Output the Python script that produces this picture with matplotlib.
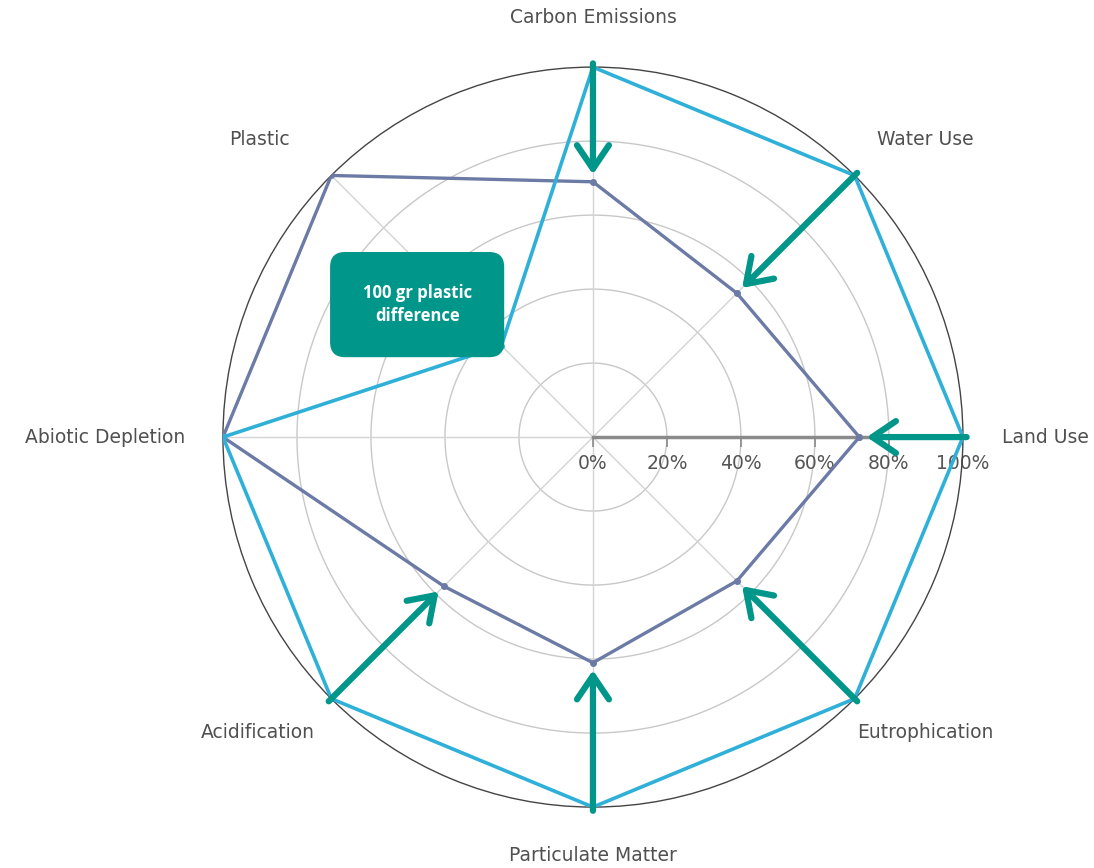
import numpy as np
import matplotlib.pyplot as plt

# categories, counter-clockwise from the right (Land Use at 0 deg)
categories = ['Land Use', 'Water Use', 'Carbon Emissions', 'Plastic',
              'Abiotic Depletion', 'Acidification', 'Particulate Matter', 'Eutrophication']
reference = [100, 100, 100, 35, 100, 100, 100, 100]   # light blue
alternative = [72, 55, 69, 100, 100, 57, 61, 55]      # dark slate
r_ticks = [0, 20, 40, 60, 80, 100]
r_tick_labels = ['0%', '20%', '40%', '60%', '80%', '100%']
arrow_cats = ['Carbon Emissions', 'Water Use', 'Land Use', 'Eutrophication',
              'Particulate Matter', 'Acidification']
note = '100 gr plastic\ndifference'

plt.rcParams['font.family'] = ['DejaVu Sans']

theta = np.deg2rad(np.arange(len(categories)) * 45.0)
tc = np.append(theta, theta[0])

fig = plt.figure(figsize=(10.94, 8.68), dpi=100)
ax = fig.add_axes([0.2038, 0.0702, 0.6764, 0.8525], projection='polar')
ax.set_theta_zero_location('E')
ax.set_theta_direction(1)
ax.set_ylim(0, 100)
ax.grid(False)
ax.set_xticks([])
ax.set_yticks([])
ax.spines['polar'].set_color('#444444')
ax.spines['polar'].set_linewidth(1.0)

# grid circles and spokes
circ = np.linspace(0, 2 * np.pi, 400)
for r in r_ticks[1:-1]:
    ax.plot(circ, np.full_like(circ, r), color='#c8c8c8', lw=1, zorder=1)
for t in theta:
    ax.plot([t, t], [0, 100], color='#d4d4d4', lw=1, zorder=1)
ax.plot([0, 0], [0, 100], color='#8a8a8a', lw=2.5, zorder=1.5)
ax.plot(np.zeros(len(r_ticks)), r_ticks, ls='none', marker=3, ms=7,
        mew=1.2, color='#8a8a8a', zorder=1.5)
for r, lab in zip(r_ticks, r_tick_labels):
    ax.annotate(lab, xy=(0, r), xytext=(0, -26), textcoords='offset pixels',
                ha='center', va='center', fontsize=13.5, color='#555555', zorder=2)

# series
ax.plot(tc, np.append(alternative, alternative[0]), color='#6c7ba6', lw=2.4,
        marker='o', ms=4, zorder=3)
ax.plot(tc, np.append(reference, reference[0]), color='#2fb0d9', lw=2.6,
        marker='o', ms=4, zorder=4)

# category labels
offsets = {'Land Use': (39, 0, 'left'), 'Water Use': (71, 36, 'center'),
           'Carbon Emissions': (0, 50, 'center'), 'Plastic': (-72, 36, 'center'),
           'Abiotic Depletion': (-38, 0, 'right'), 'Acidification': (-73, -34, 'center'),
           'Particulate Matter': (0, -48, 'center'), 'Eutrophication': (71, -34, 'center')}
for t, cat in zip(theta, categories):
    dx, dy, ha = offsets[cat]
    ax.annotate(cat, xy=(t, 100), xytext=(dx, dy), textcoords='offset pixels',
                ha=ha, va='center', fontsize=13.5, color='#505050', annotation_clip=False)

# arrows from reference value to alternative value
for cat in arrow_cats:
    i = categories.index(cat)
    ax.annotate('', xy=(theta[i], alternative[i] + 2), xytext=(theta[i], reference[i] + 1),
                arrowprops=dict(arrowstyle='->,head_length=1.7,head_width=1.15',
                                color='#00968a', lw=4.5, shrinkA=0, shrinkB=0,
                                capstyle='round', joinstyle='round'),
                zorder=6, annotation_clip=False)

ax.text(np.deg2rad(143), 59.5, note, ha='center', va='center', fontsize=12,
        fontweight='bold', color='white', linespacing=1.3, zorder=7,
        family=['Open Sans', 'DejaVu Sans'],
        bbox=dict(boxstyle='round,pad=1.95,rounding_size=0.9', fc='#00968a', ec='none'))

fig.savefig('out.png', dpi=100)
